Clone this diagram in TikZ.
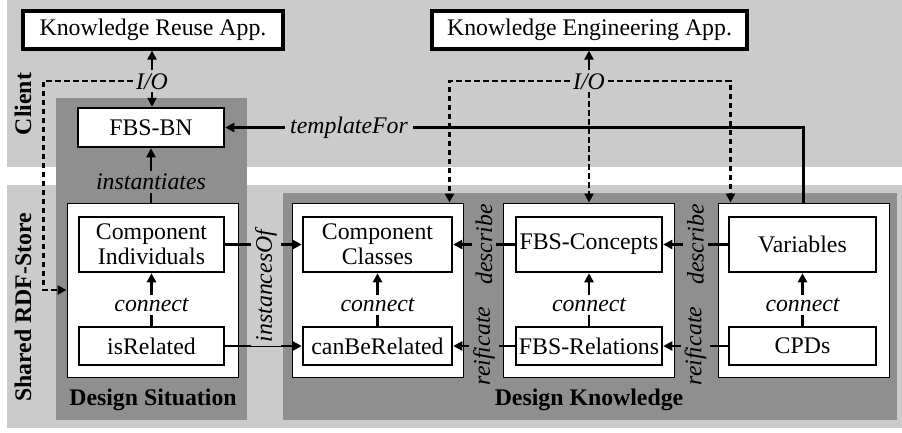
\documentclass[tikz,border=0pt]{standalone}
\usepackage{fontspec}
\setmainfont{Liberation Serif}
\usetikzlibrary{arrows.meta}
\definecolor{lg}{RGB}{203,203,203}
\definecolor{dg}{RGB}{143,143,143}
\begin{document}
\begin{tikzpicture}[x=1pt,y=-1pt,
  every node/.style={font=\fontsize{23.8}{25}\selectfont},
  box/.style={draw=black, fill=white, line width=2.5pt, inner sep=0pt, align=center},
  appbox/.style={box, line width=3.2pt},
  panel/.style={draw=black, fill=white, line width=1pt, inner sep=0pt},
  conn/.style={line width=2.5pt, -{Triangle[length=9pt,width=9pt]}},
  dconn/.style={conn, dash pattern=on 5.5pt off 3.5pt},
  lbl/.style={font=\fontsize{23.8}{25}\selectfont\itshape, inner sep=3pt},
  rlbl/.style={lbl, rotate=90, inner sep=4pt},
  ttl/.style={font=\fontsize{23.8}{25}\selectfont\bfseries, inner sep=0pt},
]
\useasboundingbox (0,0) rectangle (902,432);
% bands and panels
\fill[lg] (7,0) rectangle (902,167);
\fill[lg] (7,185) rectangle (902,428);
\fill[dg] (56,98) rectangle (247,420);
\fill[dg] (283,193) rectangle (897,420);
\node[ttl, rotate=90] (client) at (23,104) {Client};
\node[ttl, rotate=90] (shared) at (23,307.5) {Shared RDF-Store};
\node[ttl] (dsit) at (153,400) {Design Situation};
\node[ttl] (dkn) at (589,400) {Design Knowledge};
% white panels
\node[panel, minimum width=171pt, minimum height=174pt] (ds) at (152.5,290) {};
\node[panel, minimum width=171pt, minimum height=174pt] (dk1) at (377.5,290) {};
\node[panel, minimum width=171pt, minimum height=174pt] (dk2) at (588.5,290) {};
\node[panel, minimum width=171pt, minimum height=174pt] (dk3) at (803.5,290) {};
% boxes
\node[appbox, minimum width=260pt, minimum height=38pt] (kra) at (153,30) {Knowledge Reuse App.};
\node[appbox, minimum width=315pt, minimum height=38pt] (kea) at (589.5,30) {Knowledge Engineering App.};
\node[box, minimum width=146pt, minimum height=39pt] (fbsbn) at (151,127.5) {FBS-BN};
\node[box, minimum width=145pt, minimum height=55pt] (ci) at (151.5,244.5) {Component\\Individuals};
\node[box, minimum width=145pt, minimum height=38pt] (isr) at (151.5,346) {isRelated};
\node[box, minimum width=149pt, minimum height=55pt] (cc) at (377.5,244.5) {Component\\Classes};
\node[box, minimum width=149pt, minimum height=38pt] (cbr) at (377.5,346) {canBeRelated};
\node[box, minimum width=146pt, minimum height=55pt] (fbsc) at (589,244.5) {FBS-Concepts};
\node[box, minimum width=146pt, minimum height=38pt] (fbsr) at (589,346) {FBS-Relations};
\node[box, minimum width=147pt, minimum height=55pt] (var) at (802.5,244.5) {Variables};
\node[box, minimum width=147pt, minimum height=38pt] (cpd) at (802.5,346) {CPDs};
% I/O left
\node[lbl, anchor=base] (io1) at (152,89) {I/O};
\draw[conn] (io1.north) -- (io1.north |- kra.south);
\draw[conn] (io1.south) -- (io1.south |- fbsbn.north);
\draw[dconn] (io1.west) -| ([xshift=-23pt]ds.west) -- (ds.west);
% I/O right
\node[lbl, anchor=base] (io2) at (589,89) {I/O};
\draw[conn] (io2.north) -- (io2.north |- kea.south);
\draw[dconn] (io2.south) -- (io2.south |- dk2.north);
\draw[dconn] (io2.west) -| ([xshift=-14pt]dk1.north east);
\draw[dconn] (io2.east) -| ([xshift=13pt]dk3.north west);
% templateFor
\draw[conn] (dk3.north) |- node[lbl, fill=lg, pos=0.893, inner sep=5pt] {templateFor} (fbsbn.east);
% instantiates
\draw[conn] (fbsbn.south |- ds.north) -- node[lbl, fill=dg, pos=0.375] {instantiates} (fbsbn.south);
% connect
\draw[conn] (isr.north) -- node[lbl, fill=white, pos=0.4] {connect} (ci.south);
\draw[conn] (cbr.north) -- node[lbl, fill=white, pos=0.4] {connect} (cc.south);
\draw[conn] (fbsr.north) -- node[lbl, fill=white, pos=0.4] {connect} (fbsc.south);
\draw[conn] (cpd.north) -- node[lbl, fill=white, pos=0.4] {connect} (var.south);
% instancesOf
\draw[conn] (ci.east) -- (cc.west);
\draw[conn] (isr.east) -- (cbr.west);
\node[rlbl, fill=lg] (inst) at (266,286) {instancesOf};
% describe / reificate
\draw[conn] (fbsc.west) -- node[rlbl, fill=dg] {describe} (cc.east);
\draw[conn] (fbsr.west) -- node[rlbl, fill=dg] {reificate} (cbr.east);
\draw[conn] (var.west) -- node[rlbl, fill=dg] {describe} (fbsc.east);
\draw[conn] (cpd.west) -- node[rlbl, fill=dg] {reificate} (fbsr.east);
\end{tikzpicture}
\end{document}
